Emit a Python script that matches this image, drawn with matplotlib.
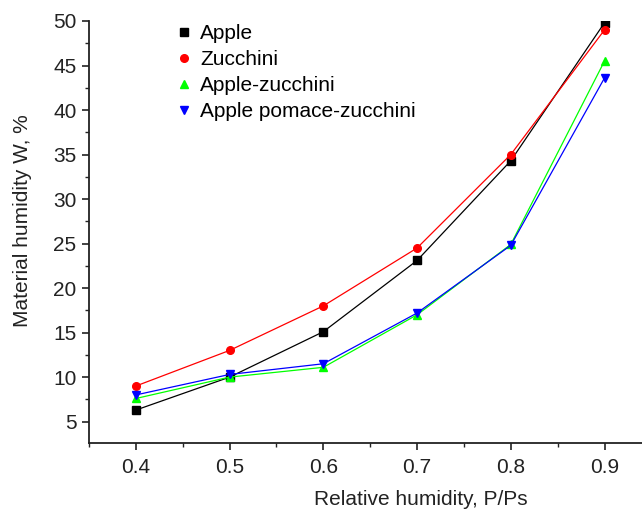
import matplotlib
matplotlib.use('Agg')
import matplotlib.pyplot as plt
from matplotlib.ticker import MultipleLocator

plt.rcParams['font.family'] = ['Liberation Sans', 'DejaVu Sans']

# relative humidity P/Ps and equilibrium material humidity W, %
rel_humidity = [0.4, 0.5, 0.6, 0.7, 0.8, 0.9]
apple = [6.3, 10.0, 15.1, 23.1, 34.3, 49.8]
zucchini = [9.0, 13.0, 18.0, 24.5, 35.0, 49.0]
apple_zucchini = [7.6, 10.0, 11.1, 17.0, 24.9, 45.5]
pomace_zucchini = [8.0, 10.3, 11.5, 17.2, 24.8, 43.6]

series = [
    ('Apple', apple, 'black', 's'),
    ('Zucchini', zucchini, 'red', 'o'),
    ('Apple-zucchini', apple_zucchini, '#00ff00', '^'),
    ('Apple pomace-zucchini', pomace_zucchini, 'blue', 'v'),
]

txt = '#222222'
fs = 15

fig = plt.figure(figsize=(6.42, 5.12), dpi=100)
ax = fig.add_axes([89 / 642, 1 - 443 / 512, 1 - 89 / 642, (443 - 21) / 512])

for name, vals, col, mk in series:
    ax.plot(rel_humidity, vals, color=col, lw=0.9, marker=mk, ms=5.5,
            markeredgecolor=col, markerfacecolor=col, label=name)

ax.set_xlim(0.35, 0.94)
ax.set_ylim(2.6, 50)
ax.xaxis.set_minor_locator(MultipleLocator(0.05))
ax.yaxis.set_minor_locator(MultipleLocator(2.5))
ax.set_xticks([0.4, 0.5, 0.6, 0.7, 0.8, 0.9])
ax.set_xticklabels(['0.4', '0.5', '0.6', '0.7', '0.8', '0.9'])
ax.set_yticks([5, 10, 15, 20, 25, 30, 35, 40, 45, 50])

for side in ['top', 'right']:
    ax.spines[side].set_visible(False)
for side in ['left', 'bottom']:
    ax.spines[side].set_linewidth(1.3)
    ax.spines[side].set_color(txt)

ax.tick_params(which='major', direction='out', length=5, width=1.2,
               labelsize=fs, colors=txt)
ax.tick_params(axis='x', which='major', pad=6)
ax.tick_params(axis='y', which='major', pad=4)
ax.tick_params(which='minor', direction='out', length=3, width=1.0, colors=txt)

ax.set_xlabel('Relative humidity, P/Ps', fontsize=fs, color=txt, va='center')
ax.xaxis.set_label_coords(0.60, -0.135)
ax.set_ylabel('Material humidity W, %', fontsize=fs, color=txt, va='center')
ax.yaxis.set_label_coords(-0.121, 0.528)

leg = ax.legend(loc='upper left', bbox_to_anchor=(0.148, 1.012), frameon=False,
                fontsize=fs, handlelength=0.5, handletextpad=0.5,
                labelspacing=0.33, borderaxespad=0)
for h in leg.legend_handles:
    h.set_linestyle('None')

fig.savefig('out.png', dpi=100)
